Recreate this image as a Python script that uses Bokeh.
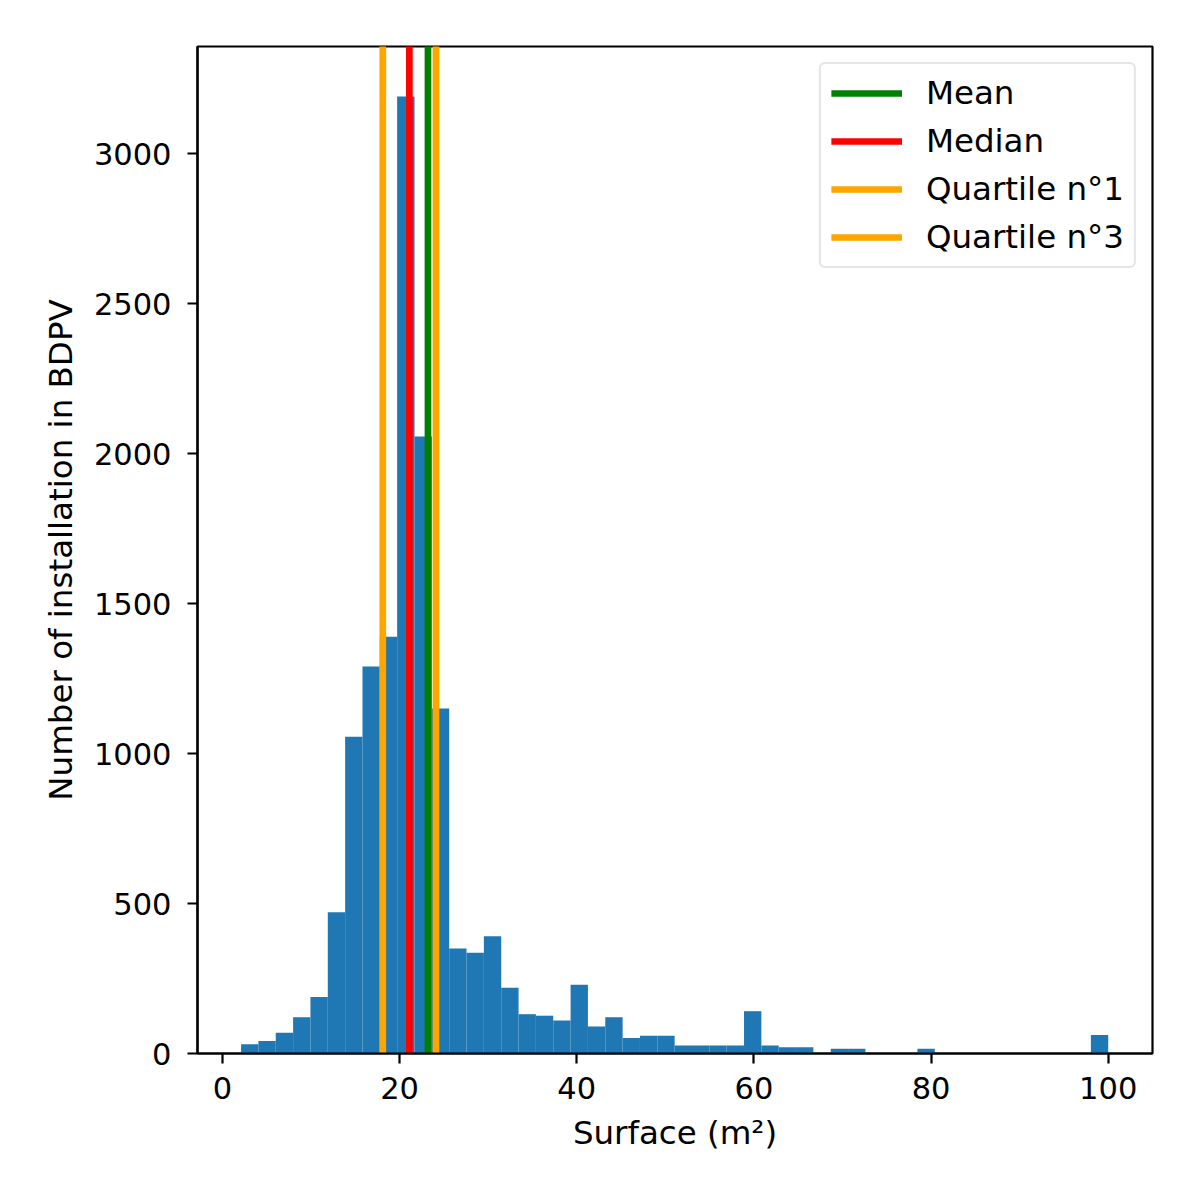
import numpy as np
from bokeh.plotting import figure
from bokeh.models import Range1d, FixedTicker, Legend, LegendItem, ColumnDataSource
from bokeh.embed import file_html
from bokeh.resources import INLINE

# Histogram data (50 bins)
bin_start = 2.1
bin_end = 100.0
counts = [31, 42, 69, 121, 188, 471, 1056, 1290, 1389, 3190,
          2057, 1150, 350, 336, 391, 219, 131, 126, 110, 229,
          90, 121, 52, 59, 59, 27, 27, 27, 27, 141,
          27, 21, 21, 0, 16, 16, 0, 0, 0, 16,
          0, 0, 0, 0, 2, 0, 0, 0, 0, 62]

stat_names = ["Mean", "Median", "Quartile n°1", "Quartile n°3"]
stat_values = [23.2, 21.1, 18.1, 24.1]
stat_colors = ["green", "red", "orange", "orange"]

x_ticks = [0, 20, 40, 60, 80, 100]
y_ticks = [0, 500, 1000, 1500, 2000, 2500, 3000]

edges = np.linspace(bin_start, bin_end, len(counts) + 1)
src = ColumnDataSource(dict(left=edges[:-1], right=edges[1:],
                            top=counts, bottom=[0] * len(counts)))

FONT = "DejaVu Sans"
TICK_FS = "30.5px"
LABEL_FS = "32.5px"

p = figure(width=1192, height=1189, output_backend="svg", toolbar_location=None,
           x_range=Range1d(-2.82, 105.0), y_range=Range1d(0, 3357),
           min_border_left=197, min_border_right=40, min_border_top=46,
           min_border_bottom=136)
p.background_fill_color = "white"
p.border_fill_color = "white"
p.grid.visible = False
p.outline_line_color = "black"
p.outline_line_width = 2.2

p.quad(left="left", right="right", top="top", bottom="bottom", source=src,
       fill_color="#1f77b4", line_color=None)

items = []
for name, v, c in zip(stat_names, stat_values, stat_colors):
    r = p.line(x=[v, v], y=[-1000, 10000], line_color=c, line_width=6.7)
    items.append(LegendItem(label=name, renderers=[r]))

legend = Legend(items=items, location="top_right")
legend.margin = 16
legend.padding = 10
legend.spacing = 10
legend.glyph_width = 71
legend.glyph_height = 34
legend.label_height = 34
legend.label_standoff = 24
legend.label_text_font = FONT
legend.label_text_font_size = LABEL_FS
legend.label_text_color = "black"
legend.border_line_color = "#cccccc"
legend.border_line_width = 2
legend.background_fill_alpha = 0.8
if "border_radius" in legend.properties():
    legend.border_radius = 6
p.add_layout(legend, "center")

for ax in (p.xaxis[0], p.yaxis[0]):
    ax.axis_line_width = 2.2
    ax.major_tick_line_width = 2.2
    ax.major_tick_in = 0
    ax.major_tick_out = 10
    ax.minor_tick_line_color = None
    ax.major_label_text_font = FONT
    ax.major_label_text_font_size = TICK_FS
    ax.major_label_text_color = "black"
    ax.axis_label_text_font = FONT
    ax.axis_label_text_font_size = LABEL_FS
    ax.axis_label_text_font_style = "normal"
    ax.axis_label_text_color = "black"

p.xaxis[0].major_label_standoff = 13
p.yaxis[0].major_label_standoff = 16
p.xaxis[0].ticker = FixedTicker(ticks=x_ticks)
p.yaxis[0].ticker = FixedTicker(ticks=y_ticks)
p.xaxis[0].axis_label = "Surface (m²)"
p.yaxis[0].axis_label = "Number of installation in BDPV"
p.xaxis[0].axis_label_standoff = 12
p.yaxis[0].axis_label_standoff = 11

open("out.html", "w").write(file_html(p, INLINE))
